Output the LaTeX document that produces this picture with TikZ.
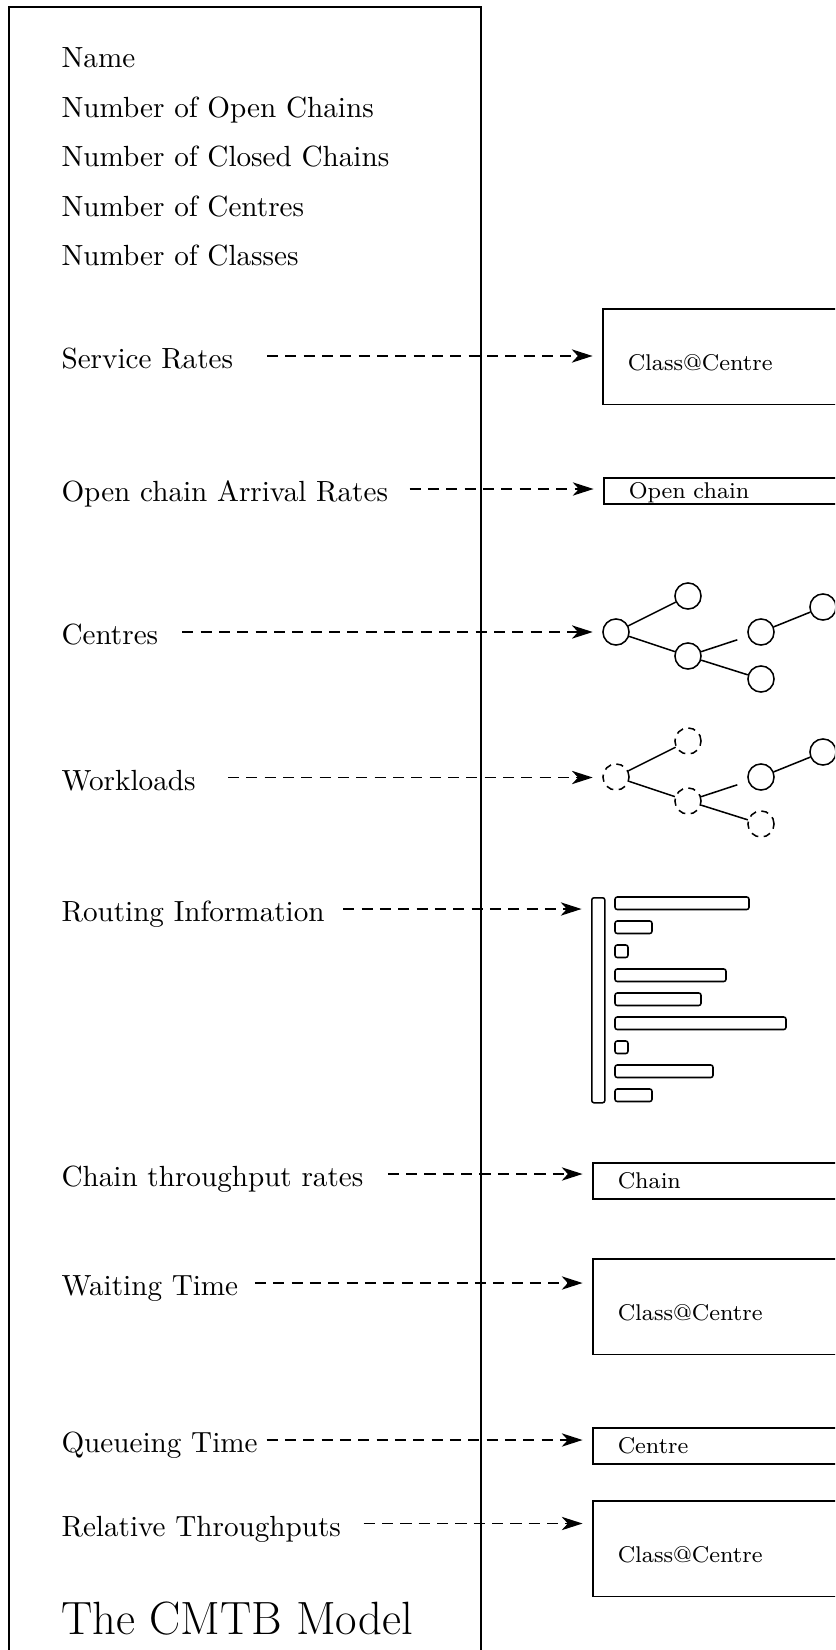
\documentclass[tikz,border=0pt]{standalone}
\usetikzlibrary{arrows.meta, positioning}

\tikzset{
  field/.style={font=\fontsize{10.5pt}{12pt}\selectfont, inner sep=0pt,
    text height=9pt, text depth=0pt},
  store/.style={draw, line width=0.55pt, anchor=north west, inner xsep=9pt,
    inner ysep=0pt, text width=100pt, align=left, text depth=0pt,
    font=\fontsize{8.2pt}{10pt}\selectfont},
  tallstore/.style={store, minimum height=34.5pt, text height=10pt},
  flatstore/.style={store, minimum height=13pt, text height=5.5pt},
  thinstore/.style={store, minimum height=9.4pt, text height=5.5pt},
  centre/.style={circle, draw, line width=0.55pt, minimum size=9.4pt, inner sep=0pt},
  spare/.style={centre, dash pattern=on 2.6pt off 2pt},
  link/.style={line width=0.55pt},
  slot/.style={line width=0.55pt, rounded corners=0.8pt},
  flow/.style={line width=0.5pt, dash pattern=on 4pt off 2.6pt, shorten >=3.4pt,
    -{Stealth[length=7.5pt, width=4.8pt, inset=2.2pt]}},
}

\begin{document}
\begin{tikzpicture}[x=0.36pt, y=-0.36pt]

  \clip (0,0) rectangle (835,1650);

  % model frame
  \draw[line width=0.7pt] (9,7) rectangle (481,1700);

  % plain fields
  \node[field, anchor=base west] (name) at (61,68) {Name};
  \node[field, below right=8.4pt and 0pt of name.south west] (nopen) {Number of Open Chains};
  \node[field, below right=8.4pt and 0pt of nopen.south west] (nclosed) {Number of Closed Chains};
  \node[field, below right=8.4pt and 0pt of nclosed.south west] (ncentres) {Number of Centres};
  \node[field, below right=8.4pt and 0pt of ncentres.south west] (nclasses) {Number of Classes};

  % fields with a structure behind them
  \node[field, anchor=base west] (sr) at (61,368.5) {Service Rates};
  \node[field, anchor=base west] (oa) at (61,501.5) {Open chain Arrival Rates};
  \node[field, anchor=base west] (ce) at (61,644.5) {Centres};
  \node[field, anchor=base west] (wl) at (61,790) {Workloads};
  \node[field, anchor=base west] (ri) at (61,921.5) {Routing Information};
  \node[field, anchor=base west] (ct) at (61,1186.5) {Chain throughput rates};
  \node[field, anchor=base west] (wt) at (61,1295.5) {Waiting Time};
  \node[field, anchor=base west] (qt) at (61,1452.5) {Queueing Time};
  \node[field, anchor=base west] (rt) at (61,1536) {Relative Throughputs};

  \node[anchor=base west, inner sep=0pt, font=\fontsize{16.8pt}{20pt}\selectfont]
    (title) at (61,1634) {The CMTB Model};

  % tables
  \node[tallstore] (srbox) at (602,308) {Class@Centre};
  \node[thinstore] (oabox) at (603,477) {Open chain};
  \node[flatstore] (ctbox) at (592,1162) {Chain};
  \node[tallstore] (wtbox) at (592,1258) {Class@Centre};
  \node[flatstore] (qtbox) at (592,1427) {Centre};
  \node[tallstore] (rtbox) at (592,1500) {Class@Centre};

  % centre tree
  \node[centre] (c1) at (616,632) {};
  \node[centre] (c2) at (688,596) {};
  \node[centre] (c3) at (688,656) {};
  \node[centre] (c4) at (761,632) {};
  \node[centre] (c5) at (823,607) {};
  \node[centre] (c6) at (761,679) {};
  \draw[link] (c1) -- (c2);
  \draw[link] (c1) -- (c3);
  \draw[link] (c3) -- (c6);
  \draw[link, shorten >=4pt] (c3) -- (c4);
  \draw[link] (c4) -- (c5);

  % workload tree, same layout
  \node[spare] (w1) at ([yshift=-52.2pt]c1) {};
  \node[spare] (w2) at ([yshift=-52.2pt]c2) {};
  \node[spare] (w3) at ([yshift=-52.2pt]c3) {};
  \node[centre] (w4) at ([yshift=-52.2pt]c4) {};
  \node[centre] (w5) at ([yshift=-52.2pt]c5) {};
  \node[spare] (w6) at ([yshift=-52.2pt]c6) {};
  \draw[link] (w1) -- (w2);
  \draw[link] (w1) -- (w3);
  \draw[link] (w3) -- (w6);
  \draw[link, shorten >=4pt] (w3) -- (w4);
  \draw[link] (w4) -- (w5);

  % routing table
  \node[draw, line width=0.55pt, rounded corners=0.8pt, anchor=north west, inner sep=0pt,
    minimum width=4.7pt, minimum height=73.8pt] (rail) at (591,897) {};
  \foreach \len [count=\i from 0] in {134,37,13,111,86,171,13,98,37}
    \draw[slot] (615,{897+24*\i}) rectangle ++(\len,12.5);

  % links to the structures
  \draw[flow] ([xshift=12pt]sr.east) -- (sr -| srbox.west);
  \draw[flow] ([xshift=7.6pt]oa.east) -- (oa -| oabox.west);
  \draw[flow] ([xshift=8.5pt]ce.east) -- (ce -| c1.west);
  \draw[flow] ([xshift=11.5pt]wl.east) -- (wl -| w1.west);
  \draw[flow] ([xshift=6.5pt]ri.east) -- (ri -| rail.west);
  \draw[flow] ([xshift=8.6pt]ct.east) -- (ct -| ctbox.west);
  \draw[flow] ([xshift=5.8pt]wt.east) -- (wt -| wtbox.west);
  \draw[flow] ([xshift=3pt]qt.east) -- (qt -| qtbox.west);
  \draw[flow] ([xshift=8pt]rt.east) -- (rt -| rtbox.west);

\end{tikzpicture}
\end{document}
